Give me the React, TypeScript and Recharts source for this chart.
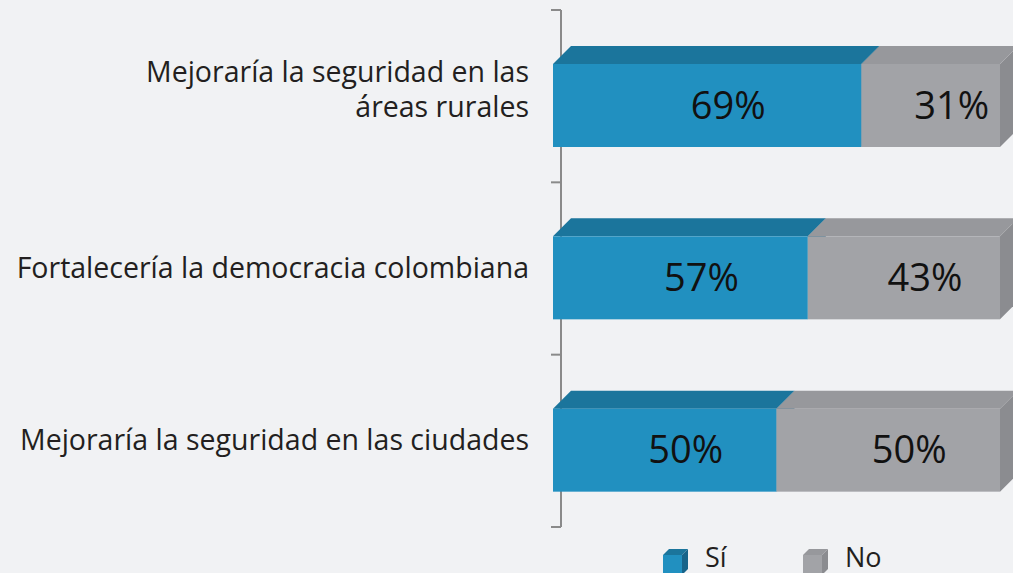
import React from "react";
import { BarChart, Bar, XAxis, YAxis, Legend, LabelList, CartesianGrid } from "recharts";

const categories = [
    "Mejoraría la seguridad en las\náreas rurales",
    "Fortalecería la democracia colombiana",
    "Mejoraría la seguridad en las ciudades",
];
const siValues = [69, 57, 50];
const noValues = [31, 43, 50];

const data = categories.map((name, i) => ({ name, si: siValues[i], no: noValues[i] }));

const CHART_W = 1013;
const CHART_H = 573;
const MARGIN = { top: 10, right: 5, bottom: 46, left: 0 };
const AXIS_X = 561;
const BAND = (CHART_H - MARGIN.top - MARGIN.bottom) / categories.length;
const DEPTH = 18;
const SHIFT = 8;
const FONT = "'Open Sans', 'Noto Sans', sans-serif";
const TEXT = "#231f20";
const AXIS_COLOR = "#8a8a8a";

const SI = { front: "#2190c0", top: "#1b759c", side: "#17648a" };
const NO = { front: "#a2a3a7", top: "#97989c", side: "#8b8c90" };

function makeBox(pal: { front: string; top: string; side: string }) {
    return (props: any) => {
        const { x, y, width, height } = props;
        const fx = x - SHIFT;
        const fy = y + DEPTH;
        const fh = height - DEPTH;
        return (
            <g>
                <polygon
                    points={`${fx + width},${fy} ${fx + width + DEPTH},${y} ${fx + width + DEPTH},${y + fh} ${fx + width},${fy + fh}`}
                    fill={pal.side}
                />
                <polygon
                    points={`${fx},${fy} ${fx + DEPTH},${y} ${fx + width + DEPTH},${y} ${fx + width},${fy}`}
                    fill={pal.top}
                />
                <rect x={fx} y={fy} width={width} height={fh} fill={pal.front} />
            </g>
        );
    };
}

function ValueLabel(props: any) {
    const { x, y, width, height, value } = props;
    const cx = x - SHIFT + width / 2 + 21;
    const cy = y + DEPTH + (height - DEPTH) / 2 + 13;
    return (
        <text x={cx} y={cy} textAnchor="middle" fontSize={38} fontFamily={FONT} fill="#111">
            {value}%
        </text>
    );
}

function CategoryTick(props: any) {
    const { y, payload, index } = props;
    const lines: string[] = String(payload.value).split("\n");
    const n = lines.length;
    return (
        <g>
            <line x1={AXIS_X - 10} x2={AXIS_X} y1={y - BAND / 2} y2={y - BAND / 2} stroke={AXIS_COLOR} strokeWidth={2} />
            {index === categories.length - 1 && (
                <line x1={AXIS_X - 10} x2={AXIS_X} y1={y + BAND / 2} y2={y + BAND / 2} stroke={AXIS_COLOR} strokeWidth={2} />
            )}
            {lines.map((line, i) => (
                <text
                    key={i}
                    x={529}
                    y={y + 9 - (n - 1) * 23 + i * 35}
                    textAnchor="end"
                    fontSize={28.5}
                    fontFamily={FONT}
                    fill={TEXT}
                >
                    {line}
                </text>
            ))}
        </g>
    );
}

function LegendContent() {
    const items = [
        { label: "Sí", pal: SI },
        { label: "No", pal: NO },
    ];
    return (
        <svg width={320} height={33}>
            {items.map((it, i) => {
                const gx = 8 + i * 140;
                return (
                    <g key={it.label}>
                        <polygon points={`${gx},15 ${gx + 6},9 ${gx + 25},9 ${gx + 19},15`} fill={it.pal.top} />
                        <polygon points={`${gx + 19},15 ${gx + 25},9 ${gx + 25},29 ${gx + 19},35`} fill={it.pal.side} />
                        <rect x={gx} y={15} width={19} height={20} fill={it.pal.front} />
                        <text x={gx + 42} y={27} fontSize={27} fontFamily={FONT} fill={TEXT}>
                            {it.label}
                        </text>
                    </g>
                );
            })}
        </svg>
    );
}

export default function App() {
    return (
        <div style={{ position: "absolute", left: 0, top: 0, width: CHART_W, height: CHART_H, background: "#f1f2f4", overflow: "hidden" }}>
            <BarChart width={CHART_W} height={CHART_H} data={data} layout="vertical" margin={MARGIN}>
                <CartesianGrid horizontal={false} verticalPoints={[AXIS_X]} stroke={AXIS_COLOR} strokeWidth={2} />
                <XAxis type="number" domain={[0, 100]} hide />
                <YAxis
                    type="category"
                    dataKey="name"
                    width={AXIS_X}
                    axisLine={false}
                    tickLine={false}
                    tick={<CategoryTick />}
                    interval={0}
                />
                <Legend
                    layout="horizontal"
                    verticalAlign="middle"
                    align="center"
                    wrapperStyle={{ top: 540, left: 655, width: 320 }}
                    content={<LegendContent />}
                />
                <Bar dataKey="si" name="Sí" stackId="a" barSize={101} shape={makeBox(SI)} isAnimationActive={false}>
                    <LabelList dataKey="si" content={<ValueLabel />} />
                </Bar>
                <Bar dataKey="no" name="No" stackId="a" barSize={101} shape={makeBox(NO)} isAnimationActive={false}>
                    <LabelList dataKey="no" content={<ValueLabel />} />
                </Bar>
            </BarChart>
        </div>
    );
}
